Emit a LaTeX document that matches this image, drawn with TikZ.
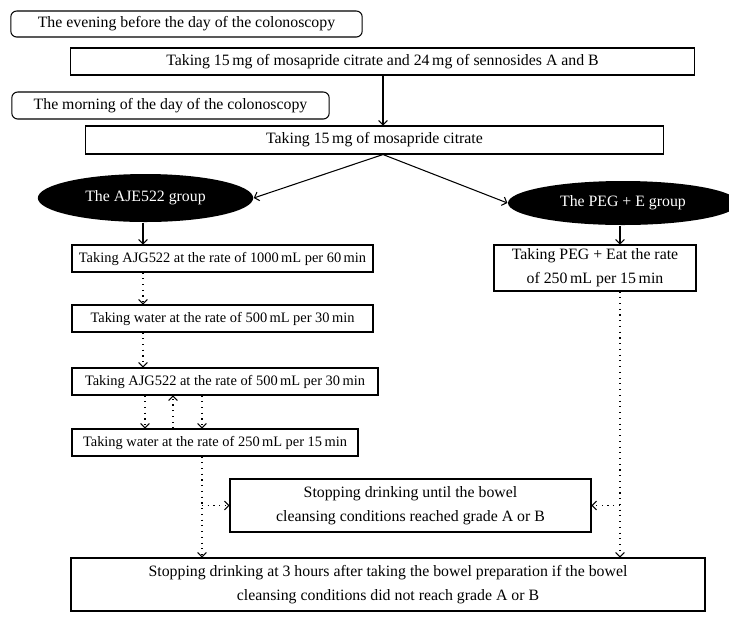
\documentclass[tikz,border=0pt]{standalone}
\usepackage{fontspec}
\setmainfont{Liberation Serif}
\usetikzlibrary{shapes.geometric,arrows.meta}
\begin{document}
\begin{tikzpicture}[scale=0.15, line width=0.45pt,
  stepbox/.style={draw, rectangle, minimum height=0.405cm},
  armbox/.style={stepbox, font=\fontsize{6.15}{9}\selectfont},
  timebox/.style={draw, rounded corners=2.5pt, minimum height=0.39cm},
  groupnode/.style={ellipse, fill=black, text=white, minimum height=0.7cm},
  flow/.style={-{Straight Barb[length=1.8pt,width=3.8pt]}},
  loop/.style={-{Straight Barb[length=1.8pt,width=3.8pt]}, dotted}]
\tikzstyle{every node}+=[inner sep=0pt, align=center, font=\fontsize{6.75}{10.1}\selectfont]
\useasboundingbox (0,0) rectangle (72.9,-62.1);
% timing labels
\node [timebox, minimum width=5.27cm] (eve) at (18.65,-2.4) {The evening before the day of the colonoscopy};
\node [timebox, minimum width=4.76cm, minimum height=0.405cm] (morn) at (17.05,-10.55) {The morning of the day of the colonoscopy};
% common steps
\node [stepbox, minimum width=9.35cm] (sen) at (38.25,-6.15) {Taking 15\,mg of mosapride citrate and 24\,mg of sennosides A and B};
\node [stepbox, minimum width=8.66cm, minimum height=0.42cm] (mos) at (37.45,-14.0) {Taking 15\,mg of mosapride citrate};
% groups
\node [groupnode, minimum width=3.23cm, minimum height=0.72cm] (aje) at (14.55,-19.8) {The AJE522 group};
\node [groupnode, minimum width=3.45cm, minimum height=0.66cm] (peg) at (62.3,-20.3) {The PEG + E group};
% AJG522 arm
\node [armbox, minimum width=4.515cm] (ajg1) at (22.25,-25.85) {Taking AJG522 at the rate of 1000\,mL per 60\,min};
\node [armbox, minimum width=4.515cm] (wat1) at (22.25,-31.85) {Taking water at the rate of 500\,mL per 30\,min};
\node [armbox, minimum width=4.59cm] (ajg2) at (22.5,-38.15) {Taking AJG522 at the rate of 500\,mL per 30\,min};
\node [armbox, minimum width=4.29cm] (wat2) at (21.5,-44.25) {Taking water at the rate of 250\,mL per 15\,min};
% PEG arm
\node [stepbox, minimum width=3.03cm, minimum height=0.69cm] (pegs) at (59.5,-26.8) {Taking PEG + Eat the rate\\of 250\,mL per 15\,min};
% end points
\node [stepbox, minimum width=5.415cm, minimum height=0.795cm] (stop) at (41.05,-50.55) {Stopping drinking until the bowel\\cleansing conditions reached grade A or B};
\node [stepbox, minimum width=9.51cm, minimum height=0.795cm] (last) at (38.8,-58.45) {Stopping drinking at 3 hours after taking the bowel preparation if the bowel\\cleansing conditions did not reach grade A or B};
% columns for the connectors
\coordinate (mid) at (38.3,0);
\coordinate (lc) at (14.3,0);
\coordinate (lc2) at (14.5,0);
\coordinate (uc) at (17.3,0);
\coordinate (dc) at (20.2,0);
\coordinate (rc) at (62.0,0);
\draw [flow] (mid |- sen.south) -- (mid |- mos.north);
\draw [flow] (mid |- mos.south) -- (aje.east);
\draw [flow] (mid |- mos.south) -- (peg.west);
\draw [flow] (lc |- aje.south) -- (lc |- ajg1.north);
\draw [flow] (rc |- peg.south) -- (rc |- pegs.north);
\draw [loop] (lc |- ajg1.south) -- (lc |- wat1.north);
\draw [loop] (lc |- wat1.south) -- (lc |- ajg2.north);
\draw [loop] (lc2 |- ajg2.south) -- (lc2 |- wat2.north);
\draw [loop] (uc |- wat2.north) -- (uc |- ajg2.south);
\draw [loop] (dc |- ajg2.south) -- (dc |- wat2.north);
\draw [loop] (dc |- wat2.south) -- (dc |- last.north);
\draw [loop] (dc |- stop.west) -- (stop.west);
\draw [loop] (rc |- pegs.south) -- (rc |- last.north);
\draw [loop] (rc |- stop.east) -- (stop.east);
\end{tikzpicture}
\end{document}
